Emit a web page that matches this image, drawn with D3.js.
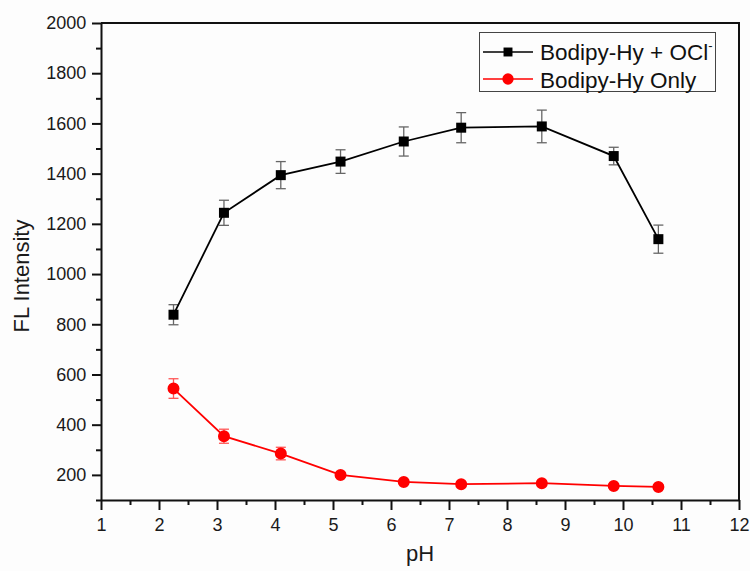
<!DOCTYPE html>
<html>
<head>
<meta charset="utf-8">
<script src="https://cdn.jsdelivr.net/npm/d3@7"></script>
<style>
	body { margin: 0; background: #fdfdfd; }
	svg { display: block; font-family: "Liberation Sans", Arial, sans-serif; }
</style>
</head>
<body>
<div id="chart"></div>
<script>
// pH values and FL intensities
var phOCl = [2.25, 3.12, 4.10, 5.13, 6.22, 7.21, 8.60, 9.84, 10.61];
var intOCl = [838, 1244, 1394, 1448, 1528, 1583, 1588, 1470, 1139];
var errOCl = [40, 50, 54, 47, 58, 60, 65, 35, 56];

var phOnly = [2.25, 3.12, 4.10, 5.13, 6.22, 7.21, 8.60, 9.84, 10.61];
var intOnly = [544, 354, 285, 200, 172, 163, 167, 156, 152];
var errOnly = [39, 28, 25, 10, 8, 8, 8, 8, 8];

var xTicks = [1, 2, 3, 4, 5, 6, 7, 8, 9, 10, 11, 12];
var yTicks = [200, 400, 600, 800, 1000, 1200, 1400, 1600, 1800, 2000];

var width = 750, height = 571;
var m = { left: 101, right: 739, top: 23, bottom: 500 };

var svg = d3.select("#chart").append("svg")
	.attr("width", width)
	.attr("height", height);

var x = d3.scaleLinear().domain([1, 12]).range([m.left, m.right]);
var y = d3.scaleLinear().domain([100, 2000]).range([m.bottom, m.top]);

// axes: major ticks + minor ticks, outward
var xAxis = svg.append("g")
	.attr("transform", "translate(0," + m.bottom + ")")
	.call(d3.axisBottom(x).tickValues(xTicks).tickFormat(d3.format("d")).tickSize(10).tickSizeOuter(0));
svg.append("g")
	.attr("transform", "translate(0," + m.bottom + ")")
	.call(d3.axisBottom(x).tickValues(d3.range(1.5, 12, 1)).tickFormat("").tickSize(5).tickSizeOuter(0))
	.select(".domain").remove();

var yAxis = svg.append("g")
	.attr("transform", "translate(" + m.left + ",0)")
	.call(d3.axisLeft(y).tickValues(yTicks).tickFormat(d3.format("d")).tickSize(9).tickSizeOuter(0));
svg.append("g")
	.attr("transform", "translate(" + m.left + ",0)")
	.call(d3.axisLeft(y).tickValues(d3.range(100, 2000, 200)).tickFormat("").tickSize(5).tickSizeOuter(0))
	.select(".domain").remove();

svg.selectAll(".tick line").attr("stroke", "#111").attr("stroke-width", 2);
svg.selectAll(".domain").attr("stroke", "#111").attr("stroke-width", 2);
xAxis.selectAll("text").attr("font-size", 18).attr("fill", "#1a1a1a").attr("dy", "1em");
yAxis.selectAll("text").attr("font-size", 18).attr("fill", "#1a1a1a").attr("dx", "-0.15em");

// frame top and right
svg.append("path")
	.attr("d", "M" + m.left + "," + m.top + "H" + m.right + "V" + m.bottom)
	.attr("fill", "none")
	.attr("stroke", "#111")
	.attr("stroke-width", 2);

// axis titles
svg.append("text")
	.attr("x", (m.left + m.right) / 2)
	.attr("y", 561)
	.attr("text-anchor", "middle")
	.attr("font-size", 22)
	.attr("fill", "#1a1a1a")
	.text("pH");

svg.append("text")
	.attr("transform", "translate(29,276) rotate(-90)")
	.attr("text-anchor", "middle")
	.attr("font-size", 22)
	.attr("fill", "#1a1a1a")
	.text("FL Intensity");

function drawSeries(xs, ys, es, color, errColor, shape) {
	var pts = xs.map(function(v, i) { return { x: v, y: ys[i], e: es[i] }; });
	var g = svg.append("g");

	// error bars
	var eb = g.selectAll(".err").data(pts).enter().append("g")
		.attr("stroke", errColor)
		.attr("stroke-width", 1.3);
	eb.append("line")
		.attr("x1", function(d) { return x(d.x); })
		.attr("x2", function(d) { return x(d.x); })
		.attr("y1", function(d) { return y(d.y + d.e); })
		.attr("y2", function(d) { return y(d.y - d.e); });
	eb.append("line")
		.attr("x1", function(d) { return x(d.x) - 5; })
		.attr("x2", function(d) { return x(d.x) + 5; })
		.attr("y1", function(d) { return y(d.y + d.e); })
		.attr("y2", function(d) { return y(d.y + d.e); });
	eb.append("line")
		.attr("x1", function(d) { return x(d.x) - 5; })
		.attr("x2", function(d) { return x(d.x) + 5; })
		.attr("y1", function(d) { return y(d.y - d.e); })
		.attr("y2", function(d) { return y(d.y - d.e); });

	g.append("path")
		.datum(pts)
		.attr("fill", "none")
		.attr("stroke", color)
		.attr("stroke-width", 1.8)
		.attr("d", d3.line().x(function(d) { return x(d.x); }).y(function(d) { return y(d.y); }));

	g.selectAll(".mk").data(pts).enter().append("path")
		.attr("transform", function(d) { return "translate(" + x(d.x) + "," + y(d.y) + ")"; })
		.attr("d", d3.symbol().type(shape).size(shape === d3.symbolSquare ? 100 : 113))
		.attr("fill", color);
}

drawSeries(phOCl, intOCl, errOCl, "#000", "#666", d3.symbolSquare);
drawSeries(phOnly, intOnly, errOnly, "#f00", "#f55", d3.symbolCircle);

// legend
var leg = svg.append("g");
leg.append("rect")
	.attr("x", 479.5).attr("y", 32.5)
	.attr("width", 236).attr("height", 59)
	.attr("fill", "#fdfdfd")
	.attr("stroke", "#444")
	.attr("stroke-width", 1);

var legItems = [
	{ color: "#000", shape: d3.symbolSquare, size: 80, y: 52 },
	{ color: "#f00", shape: d3.symbolCircle, size: 100, y: 79 }
];
legItems.forEach(function(it) {
	leg.append("line")
		.attr("x1", 483).attr("x2", 533)
		.attr("y1", it.y).attr("y2", it.y)
		.attr("stroke", it.color).attr("stroke-width", 1.6);
	leg.append("path")
		.attr("transform", "translate(508," + it.y + ")")
		.attr("d", d3.symbol().type(it.shape).size(it.size))
		.attr("fill", it.color);
});

var t1 = leg.append("text")
	.attr("x", 540).attr("y", 60)
	.attr("font-size", 22.5)
	.attr("fill", "#111")
	.text("Bodipy-Hy + OCl");
t1.append("tspan")
	.attr("font-size", 13)
	.attr("dy", -10)
	.text("-");

leg.append("text")
	.attr("x", 540).attr("y", 88)
	.attr("font-size", 22.5)
	.attr("fill", "#111")
	.text("Bodipy-Hy Only");
</script>
</body>
</html>
